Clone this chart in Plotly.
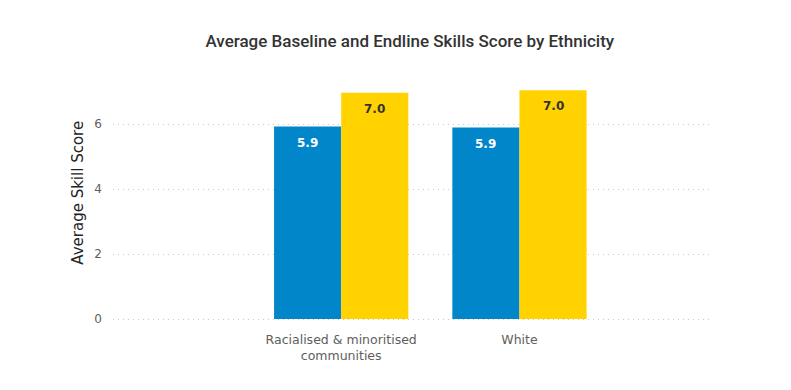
import plotly.graph_objects as go

categories = ["Racialised & minoritised<br>communities", "White"]
baseline = [5.92, 5.89]
endline = [6.96, 7.04]
baseline_labels = ["5.9", "5.9"]
endline_labels = ["7.0", "7.0"]

BLUE = "#0086C9"
YELLOW = "#FFD200"
BARGAP = 0.247

fig = go.Figure()
fig.add_trace(go.Bar(
    x=categories, y=baseline, name="Baseline",
    marker=dict(color=BLUE, line=dict(width=0)),
))
fig.add_trace(go.Bar(
    x=categories, y=endline, name="Endline",
    marker=dict(color=YELLOW, line=dict(width=0)),
))

# data labels, placed inside the top of each bar
half = (1 - BARGAP) / 4
for i, (b, e, bl, el) in enumerate(zip(baseline, endline, baseline_labels, endline_labels)):
    fig.add_annotation(x=i - half, y=b, xref="x", yref="y", text=f"<b>{bl}</b>",
                       showarrow=False, yanchor="top", yshift=-7,
                       font=dict(family="DejaVu Sans", size=12, color="white"))
    fig.add_annotation(x=i + half, y=e, xref="x", yref="y", text=f"<b>{el}</b>",
                       showarrow=False, yanchor="top", yshift=-7,
                       font=dict(family="DejaVu Sans", size=12, color="#333333"))

fig.add_annotation(
    text="Average Skill Score", textangle=-90, showarrow=False,
    xref="paper", yref="paper", x=-0.0584, y=0.528, xanchor="center", yanchor="middle",
    font=dict(family="DejaVu Sans", size=15, color="#252423"),
)

fig.update_layout(
    width=791, height=390,
    margin=dict(l=105, r=87, t=70, b=77),
    paper_bgcolor="white", plot_bgcolor="white",
    showlegend=False,
    barmode="group", bargap=BARGAP, bargroupgap=0,
    title=dict(
        text="Average Baseline and Endline Skills Score by Ethnicity",
        x=0.508, xanchor="center", y=0.915, yanchor="middle",
        font=dict(family="Roboto", size=17, color="#333333", weight=500),
    ),
    xaxis=dict(
        range=[-1.28, 2.08], showgrid=False, zeroline=False, showline=False,
        tickfont=dict(family="DejaVu Sans", size=12.5, color="#605E5C"),
        ticks="", ticklabelstandoff=9,
    ),
    yaxis=dict(
        range=[-0.06, 7.415], tickvals=[0, 2, 4, 6],
        showgrid=True, gridcolor="#C8C8C8", griddash="1px,4px", gridwidth=1,
        zeroline=False, showline=False,
        tickfont=dict(family="DejaVu Sans", size=12, color="#605E5C"),
        ticks="", ticklabelstandoff=10,
    ),
)

fig.write_html("out.html")
